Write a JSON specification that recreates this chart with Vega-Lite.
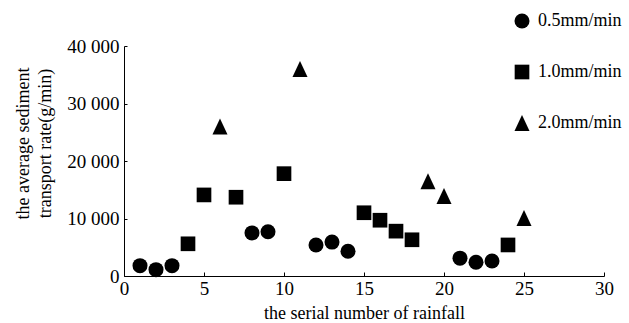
{
  "$schema": "https://vega.github.io/schema/vega-lite/v6.json",
  "width": 480,
  "height": 230,
  "autosize": "none",
  "padding": {"left": 124, "top": 46, "right": 25, "bottom": 47},
  "background": "white",
  "config": {
    "view": {"stroke": null},
    "font": "Liberation Serif",
    "axis": {"labelFont": "Liberation Serif", "titleFont": "Liberation Serif", "labelColor": "#000", "titleColor": "#000", "titleFontWeight": "normal", "domainColor": "#000", "tickColor": "#000", "grid": false},
    "legend": {"labelFont": "Liberation Serif"}
  },
  "data": {
    "values": [
      {"n": 1, "rate": 1800, "intensity": "0.5mm/min"},
      {"n": 2, "rate": 1100, "intensity": "0.5mm/min"},
      {"n": 3, "rate": 1800, "intensity": "0.5mm/min"},
      {"n": 8, "rate": 7500, "intensity": "0.5mm/min"},
      {"n": 9, "rate": 7700, "intensity": "0.5mm/min"},
      {"n": 12, "rate": 5400, "intensity": "0.5mm/min"},
      {"n": 13, "rate": 5900, "intensity": "0.5mm/min"},
      {"n": 14, "rate": 4300, "intensity": "0.5mm/min"},
      {"n": 21, "rate": 3100, "intensity": "0.5mm/min"},
      {"n": 22, "rate": 2400, "intensity": "0.5mm/min"},
      {"n": 23, "rate": 2600, "intensity": "0.5mm/min"},
      {"n": 4, "rate": 5600, "intensity": "1.0mm/min"},
      {"n": 5, "rate": 14100, "intensity": "1.0mm/min"},
      {"n": 7, "rate": 13700, "intensity": "1.0mm/min"},
      {"n": 10, "rate": 17800, "intensity": "1.0mm/min"},
      {"n": 15, "rate": 11000, "intensity": "1.0mm/min"},
      {"n": 16, "rate": 9700, "intensity": "1.0mm/min"},
      {"n": 17, "rate": 7800, "intensity": "1.0mm/min"},
      {"n": 18, "rate": 6300, "intensity": "1.0mm/min"},
      {"n": 24, "rate": 5400, "intensity": "1.0mm/min"},
      {"n": 6, "rate": 26000, "intensity": "2.0mm/min"},
      {"n": 11, "rate": 36000, "intensity": "2.0mm/min"},
      {"n": 19, "rate": 16500, "intensity": "2.0mm/min"},
      {"n": 20, "rate": 13900, "intensity": "2.0mm/min"},
      {"n": 25, "rate": 10100, "intensity": "2.0mm/min"}
    ]
  },
  "mark": {"type": "point", "filled": true, "color": "#000", "opacity": 1},
  "encoding": {
    "x": {
      "field": "n", "type": "quantitative",
      "scale": {"domain": [0, 30], "nice": false, "zero": true},
      "axis": {"values": [0, 5, 10, 15, 20, 25, 30], "tickSize": -4, "labelFontSize": 19, "titleFontSize": 18, "title": "the serial number of rainfall", "labelPadding": 7, "titlePadding": 6, "labelFlush": false}
    },
    "y": {
      "field": "rate", "type": "quantitative",
      "scale": {"domain": [0, 40000], "nice": false},
      "axis": {"values": [0, 10000, 20000, 30000, 40000], "tickSize": -3, "labelFontSize": 19, "titleFontSize": 18, "labelPadding": 8, "labelExpr": "replace(format(datum.value, ','), ',', ' ')", "title": ["the average sediment", "transport rate(g/min)"], "titlePadding": 12, "titleLineHeight": 22, "titleY": 97, "labelFlush": false}
    },
    "size": {
      "field": "intensity", "type": "nominal",
      "scale": {"type": "ordinal", "domain": ["0.5mm/min", "1.0mm/min", "2.0mm/min"], "range": [225, 215, 256]},
      "legend": {"orient": "none", "legendX": 389, "legendY": -34, "title": null, "labelFontSize": 18, "labelColor": "#000", "symbolFillColor": "#000", "symbolStrokeColor": "#000", "rowPadding": 29, "labelOffset": 7, "symbolOpacity": 1}
    },
    "shape": {
      "field": "intensity", "type": "nominal",
      "scale": {"domain": ["0.5mm/min", "1.0mm/min", "2.0mm/min"], "range": ["circle", "square", "M0,-1L-0.94,1L0.94,1Z"]},
      "legend": {"orient": "none", "legendX": 389, "legendY": -34, "title": null, "labelFontSize": 18, "labelColor": "#000", "symbolFillColor": "#000", "symbolStrokeColor": "#000", "rowPadding": 29, "labelOffset": 7, "symbolOpacity": 1}
    }
  }
}
